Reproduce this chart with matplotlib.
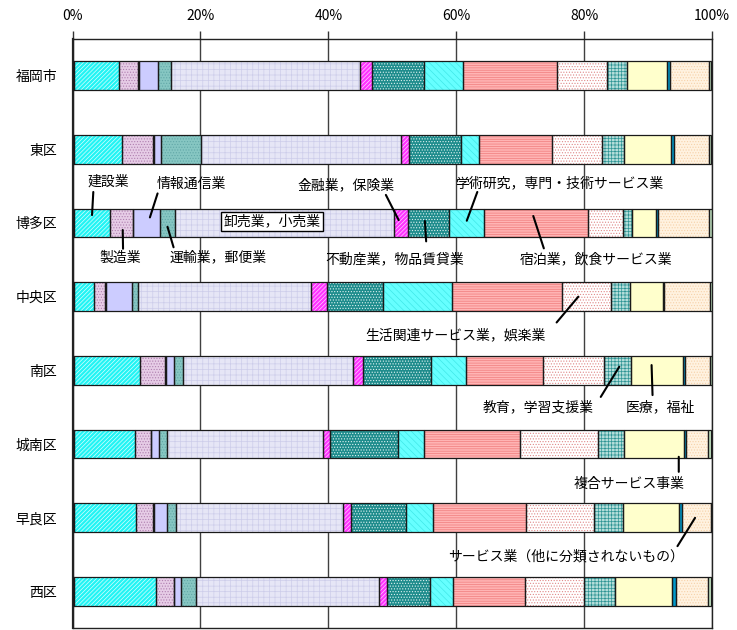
import matplotlib.pyplot as plt
import numpy as np

plt.rcParams['font.family'] = ['Noto Sans CJK JP', 'DejaVu Sans']
plt.rcParams['hatch.linewidth'] = 0.5

# 区別 産業大分類別 構成比（%）
wards = ['福岡市', '東区', '博多区', '中央区', '南区', '城南区', '早良区', '西区']

agriculture = [0.2, 0.2, 0.2, 0.2, 0.2, 0.2, 0.2, 0.2]
construction = [7.1, 7.6, 5.7, 3.2, 10.3, 9.6, 9.8, 12.8]
manufacturing = [3.0, 4.8, 3.5, 1.7, 3.9, 2.4, 2.6, 2.8]
utilities = [0.1, 0.1, 0.1, 0.2, 0.2, 0.1, 0.1, 0.1]
information = [2.9, 1.2, 4.2, 4.0, 1.3, 1.2, 2.1, 1.0]
transport = [2.1, 6.2, 2.3, 1.0, 1.4, 1.3, 1.4, 2.4]
wholesale_retail = [29.5, 31.2, 34.2, 27.0, 26.6, 24.3, 26.1, 28.7]
finance = [2.0, 1.3, 2.2, 2.5, 1.5, 1.2, 1.3, 1.2]
real_estate = [8.1, 8.1, 6.4, 8.8, 10.6, 10.6, 8.6, 6.7]
research = [6.1, 2.9, 5.5, 10.7, 5.5, 4.0, 4.2, 3.6]
accommodation = [14.7, 11.3, 16.3, 17.2, 12.1, 15.0, 14.5, 11.3]
living_services = [7.8, 7.9, 5.5, 7.7, 9.5, 12.2, 10.6, 9.2]
education = [3.1, 3.5, 1.4, 3.0, 4.2, 4.2, 4.6, 4.8]
medical = [6.2, 7.3, 3.7, 5.1, 8.1, 9.3, 8.8, 9.0]
compound = [0.5, 0.4, 0.4, 0.2, 0.4, 0.4, 0.4, 0.5]
other_services = [6.1, 5.5, 8.0, 7.2, 3.9, 3.4, 4.5, 5.1]
unclassified = [0.4, 0.4, 0.4, 0.4, 0.3, 0.4, 0.3, 0.4]

# (key, values, face colour, hatch, hatch colour)
series = [
    ('agriculture', agriculture, '#333333', None, None),
    ('construction', construction, '#22F4F4', '////////', '#D8FFFF'),
    ('manufacturing', manufacturing, '#E6CCE6', '......', '#B080B0'),
    ('utilities', utilities, '#333333', None, None),
    ('information', information, '#CCCCFF', None, None),
    ('transport', transport, '#86C6C2', '......', '#62A8A8'),
    ('wholesale_retail', wholesale_retail, '#E6E6F6', '+++', '#CDCDEA'),
    ('finance', finance, '#FF33FF', '////////', '#FFD0FF'),
    ('real_estate', real_estate, '#1E8C8C', '......', '#DDF2F2'),
    ('research', research, '#66FFFF', '\\\\\\\\\\', '#40E8E8'),
    ('accommodation', accommodation, '#FFB4B4', '-------', '#F07C7C'),
    ('living_services', living_services, '#FFFFFF', '......', '#E08A8A'),
    ('education', education, '#B4DEDA', '+++++', '#2E9494'),
    ('medical', medical, '#FFFFCC', None, None),
    ('compound', compound, '#0099CC', None, None),
    ('other_services', other_services, '#FFF2E0', '......', '#F6D2AA'),
    ('unclassified', unclassified, '#CCEECC', None, None),
]

fig = plt.figure(figsize=(7.37, 6.30), dpi=100)
ax = fig.add_axes([0.0984, 0.0025, 0.8677, 0.9362])

y = np.arange(len(wards))
bar_h = 0.39
left = np.zeros(len(wards))
spans = {}
for key, vals, face, hatch, hcolor in series:
    vals = np.asarray(vals, dtype=float)
    ax.barh(y, vals, left=left, height=bar_h, facecolor=face, linewidth=0, zorder=2)
    if hatch:
        ax.barh(y, vals, left=left, height=bar_h, facecolor='none',
                edgecolor=hcolor, hatch=hatch, linewidth=0, zorder=3)
    ax.barh(y, vals, left=left, height=bar_h, fill=False,
            edgecolor='#1A1A1A', linewidth=0.9, zorder=4)
    spans[key] = (left.copy(), vals)
    left += vals


def seg_center(key, row):
    l, w = spans[key]
    return l[row] + w[row] / 2


# label, row, series, dx, dy, line end (x, y), text position (x, y)
callouts = [
    ('建設業', 2, 'construction', 0.0, -0.107, (3.25, 1.58), (5.6, 1.445)),
    ('情報通信業', 2, 'information', 0.5, -0.075, (13.3, 1.60), (18.6, 1.47)),
    ('製造業', 2, 'manufacturing', 0.2, 0.096, (7.9, 2.35), (7.5, 2.476)),
    ('運輸業，郵便業', 2, 'transport', 0.0, 0.052, (15.8, 2.33), (22.8, 2.467)),
    ('金融業，保険業', 2, 'finance', -0.3, -0.039, (49.0, 1.62), (42.8, 1.486)),
    ('不動産業，物品賃貸業', 2, 'real_estate', -0.5, -0.026, (55.3, 2.25), (50.4, 2.49)),
    ('学術研究，専門・技術サービス業', 2, 'research', 0.1, -0.03, (63.3, 1.58), (76.1, 1.463)),
    ('宿泊業，飲食サービス業', 2, 'accommodation', -0.4, -0.094, (73.7, 2.345), (81.9, 2.49)),
    ('生活関連サービス業，娯楽業', 3, 'living_services', -1.25, 0.0, (75.7, 3.35), (59.9, 3.521)),
    ('教育，学習支援業', 4, 'education', 0.3, -0.05, (82.6, 4.36), (72.8, 4.505)),
    ('医療，福祉', 4, 'medical', -0.8, -0.072, (90.7, 4.335), (91.9, 4.505)),
    ('複合サービス事業', 5, 'compound', -1.0, 0.172, (94.8, 5.376), (87.0, 5.543)),
    ('サービス業（他に分類されないもの）', 6, 'other_services', -0.2, 0.0, (94.6, 6.384), (77.2, 6.529)),
]

for text, row, key, dx, dy, end, pos in callouts:
    ax.annotate('', xy=(seg_center(key, row) + dx, row + dy), xytext=end,
                arrowprops=dict(arrowstyle='-', color='black', lw=1.5,
                                shrinkA=0, shrinkB=0), zorder=6)
    ax.text(pos[0], pos[1], text, ha='center', va='center', fontsize=10,
            color='black', zorder=7)

# 卸売業，小売業 is labelled inside its own segment
ax.text(seg_center('wholesale_retail', 2) - 1.9, 2 - 0.02, '卸売業，小売業',
        ha='center', va='center', fontsize=10, zorder=7,
        bbox=dict(boxstyle='square,pad=0.2', facecolor='white',
                  edgecolor='black', linewidth=1))

ax.set_xlim(0, 100)
ax.set_ylim(len(wards) - 0.5, -0.5)
ax.xaxis.tick_top()
ax.set_xticks(np.arange(0, 101, 20))
ax.set_xticklabels([f'{v}%' for v in range(0, 101, 20)])
ax.set_yticks(y)
ax.set_yticklabels(wards)
ax.tick_params(axis='x', length=6, width=1, color='#333333', pad=5, labelsize=10)
ax.tick_params(axis='y', length=0, pad=11, labelsize=10)
ax.set_axisbelow(True)
ax.xaxis.grid(True, color='#404040', linewidth=1, zorder=0)
for side, sp in ax.spines.items():
    sp.set_color('#222222')
    sp.set_linewidth(1.0)
ax.spines['left'].set_linewidth(1.6)

fig.savefig('out.png', dpi=100)
